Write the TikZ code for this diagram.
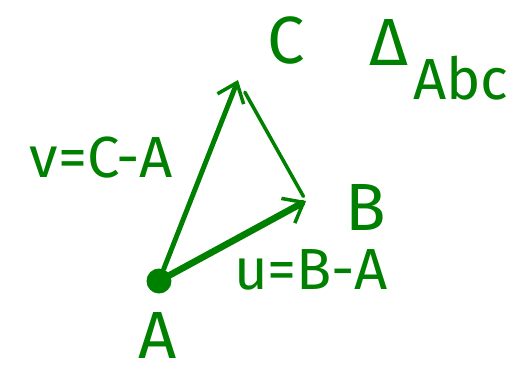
\documentclass[tikz,border=0pt]{standalone}
\usepackage{fontspec}
\setsansfont{Fira Sans}
\usepackage{tikz}
\usetikzlibrary{arrows.meta}

\definecolor{ink}{RGB}{0,128,0}

\begin{document}
\begin{tikzpicture}[x=0.02cm, y=-0.02cm,
    every node/.style={text=ink, font=\sffamily},
    big/.style={font=\sffamily\fontsize{38}{38}\selectfont},
    mid/.style={font=\sffamily\fontsize{33}{33}\selectfont},
    dot/.style={circle, fill=ink, inner sep=0pt, minimum size=0.5cm},
    vec/.style={draw=ink, line cap=round, -{Straight Barb[length=10pt, width=16pt, line width=2pt]}},
    edge/.style={draw=ink, line width=2pt, line cap=round}]
  \useasboundingbox (0,0) rectangle (524,373);
  %% points of the triangle
  \node[dot] (A) at (159,281) {};
  \coordinate (B) at (306,201);
  \coordinate (C) at (238,80);
  %% the two vectors and the third side
  \draw[vec, line width=3.8pt] (A) -- (B);
  \draw[vec, line width=2.8pt] (A) -- (C);
  \draw[edge, shorten <=8pt, shorten >=3pt] (C) -- (B);
  %% labels
  \node[big] (labC) at (286,40) {C};
  \node[big] (labB) at (366,207) {B};
  \node[big, inner sep=0pt, anchor=base] (labA) at (158,358) {A};
  \node[mid] (labV) at (101,158) {v=C-A};
  \node[mid] (labU) at (311,270) {u=B-A};
  \node[big] (labT) at (389,42) {Δ};
  \node[mid] (labS) at (461,78) {Abc};
\end{tikzpicture}
\end{document}
